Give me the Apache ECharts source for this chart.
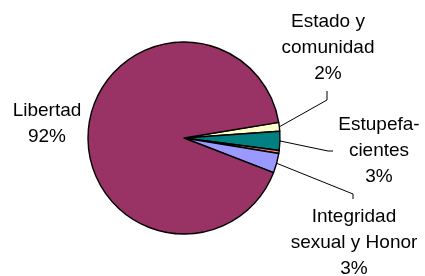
<!DOCTYPE html>
<html>
<head>
<meta charset="utf-8">
<script src="https://cdn.jsdelivr.net/npm/echarts@6/dist/echarts.min.js"></script>
<style>
  html, body { margin: 0; padding: 0; background: #fff; }
  #chart { width: 425px; height: 276px; }
</style>
</head>
<body>
<div id="chart"></div>
<script>
// slices in clockwise order, starting just above 3 o'clock
const categories = ['Estado y\ncomunidad', 'Estupefa-\ncientes', 'Otros', 'Integridad\nsexual y Honor', 'Libertad']
const values = [1.5, 3.2, 0.5, 3.3, 91.5]
const colors = ['#ffffcc', '#008080', '#ff8080', '#9999ff', '#993366']
const hiddenLabels = ['Otros']

// where each label sits, and the elbow(s) of its leader line
const labelSpots = {
  'Estado y\ncomunidad': { x: 328, y: 48, line: [[327, 100], [327, 91]] },
  'Estupefa-\ncientes': { x: 379, y: 151, line: [[328, 151], [333, 151]] },
  'Integridad\nsexual y Honor': { x: 354, y: 243, line: [[353, 194], [353, 199]] },
  'Libertad': { x: 47, y: 124, line: null },
}

const chart = echarts.init(document.getElementById('chart'))

chart.setOption({
  animation: false,
  series: [
    {
      type: 'pie',
      center: [184, 138],
      radius: 96,
      startAngle: 9.4,
      clockwise: true,
      avoidLabelOverlap: false,
      emphasis: { disabled: true },
      itemStyle: { borderColor: '#000', borderWidth: 1.4 },
      label: {
        position: 'outside',
        fontFamily: 'Liberation Sans, Arial, sans-serif',
        fontSize: 19,
        lineHeight: 26,
        color: '#000',
        align: 'center',
        formatter: (p) => p.name + '\n' + Math.round(p.percent) + '%',
      },
      labelLine: { show: true, length: 20, length2: 10, smooth: false, lineStyle: { color: '#000', width: 1 } },
      labelLayout: (params) => {
        const name = categories[params.dataIndex]
        const spot = labelSpots[name]
        if (!spot) return {}
        const out = { x: spot.x, y: spot.y, align: 'center', verticalAlign: 'middle' }
        if (spot.line && params.labelLinePoints) {
          out.labelLinePoints = [params.labelLinePoints[0]].concat(spot.line)
        }
        return out
      },
      data: categories.map((name, i) => {
        const hide = hiddenLabels.includes(name)
        return {
          name,
          value: values[i],
          itemStyle: { color: colors[i] },
          label: { show: !hide },
          labelLine: { show: !hide && labelSpots[name] && !!labelSpots[name].line },
        }
      }),
    },
  ],
})
</script>
</body>
</html>
